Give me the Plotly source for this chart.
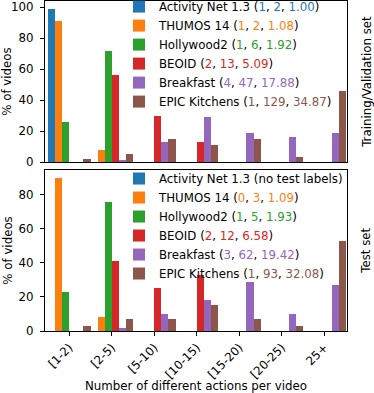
import plotly.graph_objects as go
from plotly.subplots import make_subplots

# Categories on the x axis
bins = ["[1-2)", "[2-5)", "[5-10)", "[10-15)", "[15-20)", "[20-25)", "25+"]

# Training/Validation set (% of videos per bin)
anet_train = [99, 0, 0, 0, 0, 0, 0]
thumos_train = [91, 8, 0, 0, 0, 0, 0]
holly_train = [26, 72, 0, 0, 0, 0, 0]
beoid_train = [0, 56, 30, 13, 0, 0, 0]
breakfast_train = [0, 1, 13, 29, 19, 16, 19]
epic_train = [2, 5, 15, 11, 15, 3, 46]

# Test set (% of videos per bin)
anet_test = [0, 0, 0, 0, 0, 0, 0]
thumos_test = [90, 8, 0, 0, 0, 0, 0]
holly_test = [23, 76, 0, 0, 0, 0, 0]
beoid_test = [0, 41, 25, 33, 0, 0, 0]
breakfast_test = [0, 2, 10, 18, 29, 10, 27]
epic_test = [3, 7, 7, 15, 7, 3, 53]

# Dataset names and (min, max, mean) stats shown in the legends
datasets = ["Activity Net 1.3", "THUMOS 14", "Hollywood2", "BEOID", "Breakfast", "EPIC Kitchens"]
stats_train = [("1", "2", "1.00"), ("1", "2", "1.08"), ("1", "6", "1.92"),
               ("2", "13", "5.09"), ("4", "47", "17.88"), ("1", "129", "34.87")]
stats_test = [None, ("0", "3", "1.09"), ("1", "5", "1.93"),
              ("2", "12", "6.58"), ("3", "62", "19.42"), ("1", "93", "32.08")]

colors = ["#1f77b4", "#ff7f0e", "#2ca02c", "#d62728", "#9467bd", "#8c564b"]
FONT = "DejaVu Sans"


def label(name, stats, color):
    if stats is None:
        return f"{name} (no test labels)"
    parts = ", ".join(f"<span style='color:{color}'>{s}</span>" for s in stats)
    return f"{name} ({parts})"


fig = make_subplots(rows=2, cols=1, shared_xaxes=True)

train = [anet_train, thumos_train, holly_train, beoid_train, breakfast_train, epic_train]
test = [anet_test, thumos_test, holly_test, beoid_test, breakfast_test, epic_test]

for i, name in enumerate(datasets):
    fig.add_trace(go.Bar(
        x=bins, y=train[i], name=label(name, stats_train[i], colors[i]),
        marker=dict(color=colors[i], line=dict(width=0)), legend="legend",
    ), row=1, col=1)
for i, name in enumerate(datasets):
    fig.add_trace(go.Bar(
        x=bins, y=test[i], name=label(name, stats_test[i], colors[i]),
        marker=dict(color=colors[i], line=dict(width=0)), legend="legend2",
    ), row=2, col=1)

axis_style = dict(showline=True, linecolor="black", linewidth=1, mirror=True,
                  showgrid=False, zeroline=False, ticks="outside", ticklen=4,
                  tickcolor="black", tickfont=dict(size=11.8, color="black"))

fig.update_xaxes(**axis_style, range=[-0.57, 6.53])
fig.update_xaxes(ticks="", showticklabels=False, row=1, col=1)
fig.update_xaxes(tickangle=-45, row=2, col=1,
                 title=dict(text="Number of different actions per video",
                            font=dict(size=11.8, color="black"), standoff=4))
fig.update_yaxes(**axis_style, ticklabelstandoff=4)
fig.update_yaxes(range=[0, 104], tickvals=[0, 20, 40, 60, 80, 100], domain=[0.512, 1.0],
                 title=dict(text="% of videos", font=dict(size=11.8, color="black"), standoff=3),
                 row=1, col=1)
fig.update_yaxes(range=[0, 94.5], tickvals=[0, 20, 40, 60, 80], domain=[0.0, 0.488],
                 title=dict(text="% of videos", font=dict(size=11.8, color="black"), standoff=3),
                 row=2, col=1)

legend_style = dict(xanchor="left", yanchor="top", bgcolor="rgba(0,0,0,0)",
                    font=dict(size=11.8, color="black", family=FONT), tracegroupgap=0)
side_font = dict(size=11.8, color="black")
fig.update_layout(
    width=374, height=393,
    margin=dict(l=45, r=27, t=1, b=62, autoexpand=False),
    font=dict(family=FONT, color="black"),
    plot_bgcolor="white", paper_bgcolor="white",
    barmode="group", bargap=0.0, bargroupgap=0.0,
    legend=dict(x=0.245, y=1.027, **legend_style),
    legend2=dict(x=0.245, y=0.506, **legend_style),
    annotations=[
        dict(text="Training/Validation set", xref="paper", yref="paper", x=1.064, y=0.756,
             xanchor="center", yanchor="middle", textangle=-90, showarrow=False,
             borderpad=0, font=side_font),
        dict(text="Test set", xref="paper", yref="paper", x=1.064, y=0.244,
             xanchor="center", yanchor="middle", textangle=-90, showarrow=False,
             borderpad=0, font=side_font),
    ],
)

# drop the default 8px body margin so the figure sits at the window's corner
fig.write_html("out.html", config={"displayModeBar": False},
               post_script="document.body.style.margin='0px';")
